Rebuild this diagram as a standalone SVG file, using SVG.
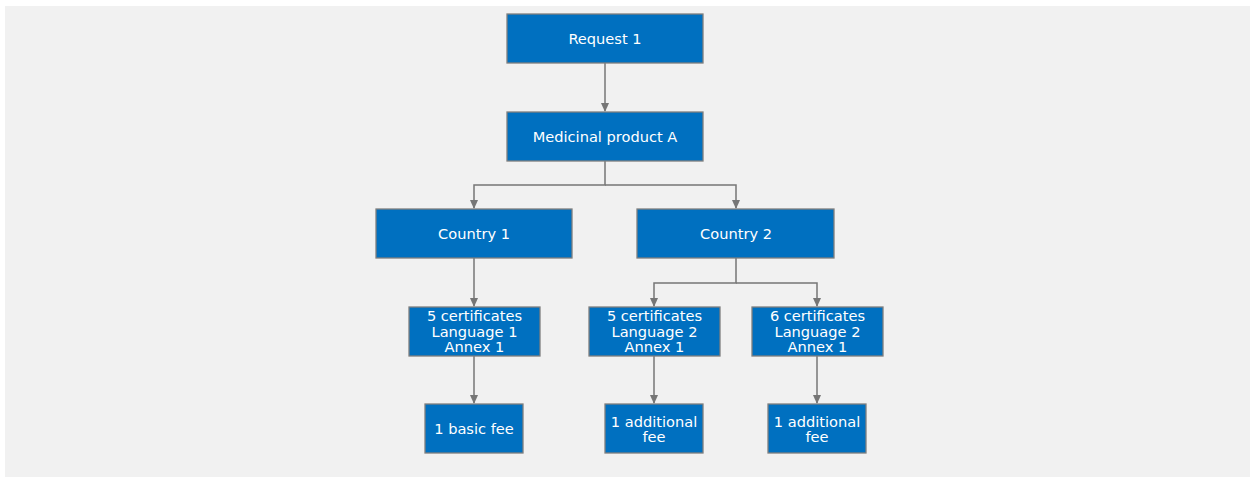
<svg xmlns="http://www.w3.org/2000/svg" width="1250" height="477" viewBox="0 0 1250 477">
<style>
.bx{fill:#0070C0;stroke:#7f7f7f;stroke-width:1.3}
.t{font-family:"DejaVu Sans",Verdana,sans-serif;font-size:14.6px;fill:#ffffff;text-anchor:middle}
.c{fill:none;stroke:#767676;stroke-width:1.5}
</style>
<defs>
<marker id="ah" markerWidth="10" markerHeight="10" refX="8" refY="5" orient="auto" markerUnits="userSpaceOnUse">
<path d="M0,1 L9,5 L0,9 Z" fill="#767676"/>
</marker>
</defs>
<rect x="5" y="6" width="1245" height="471" fill="#f1f1f1"/>
<g id="connectors">
<path class="c" d="M605,63 V111" marker-end="url(#ah)"/>
<path class="c" d="M605,161 V185 H474 V208" marker-end="url(#ah)"/>
<path class="c" d="M605,185 H736 V208" marker-end="url(#ah)"/>
<path class="c" d="M474,258 V306" marker-end="url(#ah)"/>
<path class="c" d="M736,258 V283 H654 V306" marker-end="url(#ah)"/>
<path class="c" d="M736,283 H817 V306" marker-end="url(#ah)"/>
<path class="c" d="M474,356 V403" marker-end="url(#ah)"/>
<path class="c" d="M654,356 V403" marker-end="url(#ah)"/>
<path class="c" d="M817,356 V403" marker-end="url(#ah)"/>
</g>
<g id="request1"><rect class="bx" x="507" y="14" width="196" height="49"/><text class="t" x="605" y="44">Request 1</text></g>
<g id="productA"><rect class="bx" x="507" y="112" width="196" height="49"/><text class="t" x="605" y="142">Medicinal product A</text></g>
<g id="country1"><rect class="bx" x="376" y="209" width="196" height="49"/><text class="t" x="474" y="239">Country 1</text></g>
<g id="country2"><rect class="bx" x="637" y="209" width="197" height="49"/><text class="t" x="736" y="239">Country 2</text></g>
<g id="cert1"><rect class="bx" x="409" y="307" width="131" height="49"/><text class="t" x="474.5" y="321">5 certificates</text><text class="t" x="474.5" y="337">Language 1</text><text class="t" x="474.5" y="352">Annex 1</text></g>
<g id="cert2"><rect class="bx" x="589" y="307" width="131" height="49"/><text class="t" x="654.5" y="321">5 certificates</text><text class="t" x="654.5" y="337">Language 2</text><text class="t" x="654.5" y="352">Annex 1</text></g>
<g id="cert3"><rect class="bx" x="752" y="307" width="131" height="49"/><text class="t" x="817.5" y="321">6 certificates</text><text class="t" x="817.5" y="337">Language 2</text><text class="t" x="817.5" y="352">Annex 1</text></g>
<g id="fee1"><rect class="bx" x="425" y="404" width="98" height="49"/><text class="t" x="474" y="434">1 basic fee</text></g>
<g id="fee2"><rect class="bx" x="605" y="404" width="98" height="49"/><text class="t" x="654" y="427">1 additional</text><text class="t" x="654" y="442">fee</text></g>
<g id="fee3"><rect class="bx" x="768" y="404" width="98" height="49"/><text class="t" x="817" y="427">1 additional</text><text class="t" x="817" y="442">fee</text></g>
</svg>
